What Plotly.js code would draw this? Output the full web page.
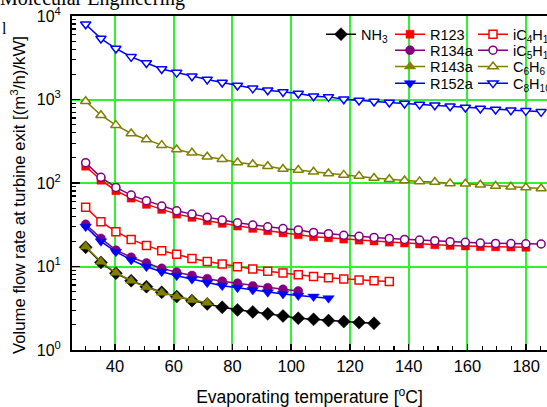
<!DOCTYPE html>
<html>
<head>
<meta charset="utf-8">
<script src="https://cdn.plot.ly/plotly-3.0.1.min.js"></script>
<style>
html,body{margin:0;padding:0;background:#fff;}
#chart{width:547px;height:407px;}
</style>
</head>
<body>
<div id="chart"></div>
<script>
// Evaporating temperatures (°C) shared by all series (each series uses the first N values)
const tempC = [30, 35.2, 40.3, 45.5, 50.7, 55.9, 61.0, 66.2, 71.4, 76.5, 81.7, 86.9, 92.0, 97.2, 102.4,
  107.6, 112.7, 117.9, 123.1, 128.2, 133.4, 138.6, 143.7, 148.9, 154.1, 159.3, 164.4, 169.6, 174.8, 179.9, 185.1];

// Volume flow rate at turbine exit [(m3/h)/kW]
const NH3 = [17, 11.2, 8.3, 6.76, 5.73, 4.91, 4.36, 3.90, 3.56, 3.25, 3.02, 2.86, 2.71, 2.56, 2.40, 2.33, 2.25, 2.19, 2.13, 2.09];
const R123 = [159, 108, 80.8, 66, 55.5, 48.3, 42.4, 38.8, 35.3, 32.9, 30.5, 28.6, 26.8, 25.3, 24.0, 22.7, 22.1, 21.3, 20.7, 20.2,
  19.6, 19.1, 18.6, 18.2, 17.9, 17.6, 17.3, 17.2, 17.1, 17.0];
const R134a = [32, 21.7, 15.7, 12.9, 11.0, 9.5, 8.55, 7.8, 7.15, 6.65, 6.3, 5.85, 5.57, 5.33, 5.09];
const R143a = [17.3, 11.4, 8.43, 6.76, 5.63, 4.86, 4.36, 3.97, 3.69];
const R152a = [30, 20, 15.0, 12.0, 9.95, 8.67, 7.76, 7.03, 6.40, 5.89, 5.57, 5.23, 4.91, 4.69, 4.48, 4.36, 4.17];
const iC4H10 = [51.1, 34.4, 26.1, 21.1, 17.9, 15.4, 14.0, 12.5, 11.5, 10.7, 9.95, 9.34, 8.8, 8.35, 7.95, 7.6, 7.35, 7.1, 6.9, 6.75, 6.6];
const iC5H12 = [175, 117, 88.5, 71.6, 61.5, 52.9, 46.5, 42.4, 38.8, 36, 33.4, 31.4, 29.9, 28.5, 27.4, 25.6, 24.7, 23.6, 23, 22.3,
  21.7, 21.1, 20.7, 20.4, 19.8, 19.5, 19.1, 18.9, 18.8, 18.7, 18.6];
const C6H6 = [955, 649, 493, 392, 332, 284, 252, 230, 206, 193, 176, 168, 159, 147, 143, 136, 130, 125, 121, 115,
  111, 107, 104.5, 102.5, 98.9, 97.8, 95.1, 91.8, 90.1, 88.5, 86.1];
const C8H10 = [7960, 5370, 4080, 3240, 2740, 2320, 2100, 1900, 1740, 1600, 1470, 1360, 1290, 1233, 1180, 1095, 1075, 1008, 973, 946,
  921, 896, 871, 855, 832, 802, 780, 759, 745, 731, 711];

const names = ['NH<sub>3</sub>', 'R123', 'R134a', 'R143a', 'R152a',
  'iC<sub>4</sub>H<sub>10</sub>', 'iC<sub>5</sub>H<sub>12</sub>', 'C<sub>6</sub>H<sub>6</sub>', 'C<sub>8</sub>H<sub>10</sub>'];
const yTickVals = [1, 10, 100, 1000, 10000];
const yTickText = ['10<sup>0</sup>', '10<sup>1</sup>', '10<sup>2</sup>', '10<sup>3</sup>', '10<sup>4</sup>'];

const black = '#000000', red = '#ff0000', purple = '#800080', olive = '#808000', blue = '#0000ff';

function tr(y, name, color, symbol, size, open, legend) {
  return {
    x: tempC.slice(0, y.length), y: y, name: name, type: 'scatter', mode: 'lines+markers',
    legend: legend,
    line: {color: color, width: 1.5},
    marker: {symbol: symbol, size: size, color: open ? '#ffffff' : color,
      line: {color: color, width: open ? 1.5 : 0.5}}
  };
}

const data = [
  tr(NH3, names[0], black, 'diamond', 10, false, 'legend'),
  tr(R123, names[1], red, 'square', 8, false, 'legend2'),
  tr(R134a, names[2], purple, 'circle', 9, false, 'legend3'),
  tr(R143a, names[3], olive, 'triangle-up', 10, false, 'legend4'),
  tr(R152a, names[4], blue, 'triangle-down', 10, false, 'legend5'),
  tr(iC4H10, names[5], red, 'square', 8, true, 'legend6'),
  tr(iC5H12, names[6], purple, 'circle', 8, true, 'legend7'),
  tr(C6H6, names[7], olive, 'triangle-up', 9, true, 'legend8'),
  tr(C8H10, names[8], blue, 'triangle-down', 9, true, 'legend9')
];

const grid = 'rgb(50,240,50)';
const legFont = {family: 'Liberation Sans, Arial, sans-serif', size: 14.5, color: '#000'};
function leg(x, y) {
  return {x: x, y: y, xanchor: 'left', yanchor: 'middle', bgcolor: 'rgba(0,0,0,0)', borderwidth: 0,
    font: legFont, itemwidth: 30};
}
const colX = [0.5242, 0.6695, 0.8442];
const rowY = [0.9453, 0.8974, 0.8487, 0.7988];

const layout = {
  width: 547, height: 407,
  margin: {l: 72, r: 0, t: 16, b: 57, autoexpand: false},
  paper_bgcolor: '#fff', plot_bgcolor: '#fff',
  font: {family: 'Liberation Sans, Arial, sans-serif', size: 16, color: '#000'},
  showlegend: true,
  legend: leg(colX[0], rowY[0]),
  legend2: leg(colX[1], rowY[0]),
  legend3: leg(colX[1], rowY[1]),
  legend4: leg(colX[1], rowY[2]),
  legend5: leg(colX[1], rowY[3]),
  legend6: leg(colX[2], rowY[0]),
  legend7: leg(colX[2], rowY[1]),
  legend8: leg(colX[2], rowY[2]),
  legend9: leg(colX[2], rowY[3]),
  xaxis: {
    range: [25.35, 187.1], tick0: 0, dtick: 20, automargin: false,
    showgrid: true, gridcolor: grid, gridwidth: 2, zeroline: false,
    showline: true, linecolor: '#000', linewidth: 2, mirror: true,
    ticks: 'inside', ticklen: 6, tickwidth: 1.5, tickcolor: '#000',
    minor: {dtick: 5, ticks: 'inside', ticklen: 4, tickwidth: 1.2, tickcolor: '#000', showgrid: false},
    tickfont: {size: 16.5},
    title: {text: 'Evaporating temperature [<sup>o</sup>C]', font: {size: 17.5}, standoff: 18}
  },
  yaxis: {
    type: 'log', range: [0, 4], automargin: false,
    tickmode: 'array', tickvals: yTickVals, ticktext: yTickText,
    showgrid: true, gridcolor: grid, gridwidth: 2, zeroline: false,
    showline: true, linecolor: '#000', linewidth: 2, mirror: false,
    ticks: 'inside', ticklen: 8, tickwidth: 1.5, tickcolor: '#000', ticklabelstandoff: 6,
    minor: {tickmode: 'array', tickvals: [2,3,4,5,6,7,8,9,20,30,40,50,60,70,80,90,200,300,400,500,600,700,800,900,2000,3000,4000,5000,6000,7000,8000,9000],
      ticks: 'inside', ticklen: 4, tickwidth: 1.2, tickcolor: '#000', showgrid: false},
    tickfont: {size: 16}
  },
  annotations: [
    {xref: 'paper', yref: 'paper', x: -0.1137, y: 0.4638, xanchor: 'center', yanchor: 'middle', showarrow: false,
      textangle: -90, text: 'Volume flow rate at turbine exit [(m<sup>3</sup>/h)/kW]',
      font: {family: 'Liberation Sans, Arial, sans-serif', size: 16.8, color: '#000'}},
    {xref: 'paper', yref: 'paper', x: 0.242, y: 1.051, xanchor: 'right', yanchor: 'middle', showarrow: false,
      text: 'Molecular Engineering', font: {family: 'Liberation Serif, Times New Roman, serif', size: 20, color: '#000'}},
    {xref: 'paper', yref: 'paper', x: -0.152, y: 0.963, xanchor: 'left', yanchor: 'middle', showarrow: false,
      text: 'l', font: {family: 'Liberation Serif, Times New Roman, serif', size: 16, color: '#000'}}
  ]
};

Plotly.newPlot('chart', data, layout, {staticPlot: true, displayModeBar: false});
</script>
</body>
</html>
